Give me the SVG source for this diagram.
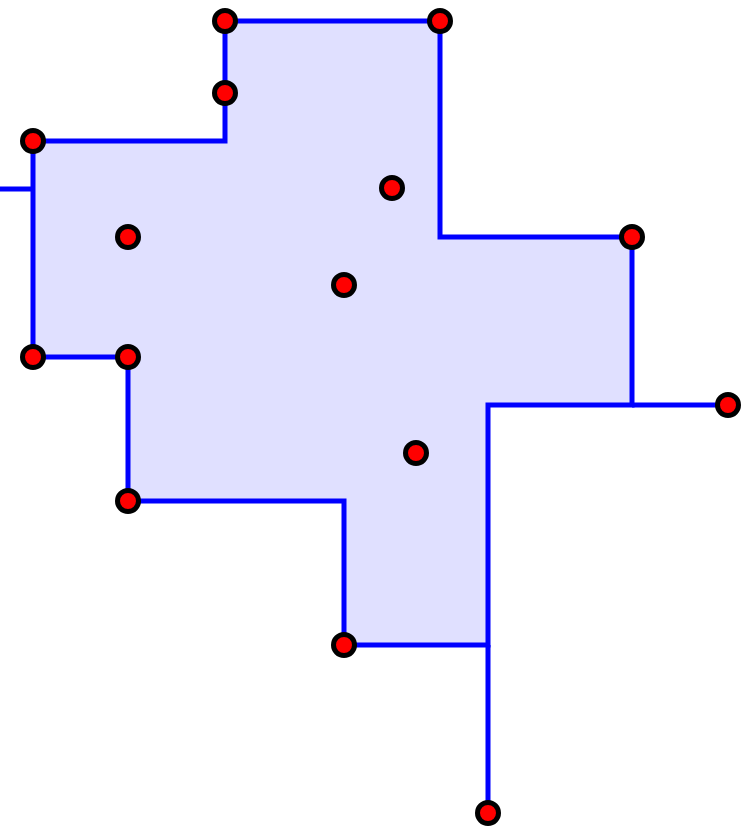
<svg xmlns="http://www.w3.org/2000/svg" width="746" height="827" viewBox="0 0 746 827">
<style>
.edge{fill:none;stroke:#0000ff;stroke-width:5;stroke-linecap:butt;stroke-linejoin:miter}
.area{fill:#e0e0ff;stroke:#0000ff;stroke-width:5;stroke-linejoin:miter}
.pt{fill:#ff0000;stroke:#000000;stroke-width:5}
</style>
<rect width="746" height="827" fill="#ffffff"/>
<g id="region">
<polygon class="area" points="33,141 225,141 225,21 440,21 440,237 632,237 632,405 488,405 488,645 344,645 344,501 128,501 128,357 33,357"/>
</g>
<g id="connectors">
<line class="edge" x1="0" y1="189" x2="33" y2="189"/>
<line class="edge" x1="632" y1="405" x2="728" y2="405"/>
<line class="edge" x1="488" y1="645" x2="488" y2="813"/>
</g>
<g id="n1"><circle class="pt" cx="225" cy="21" r="10.5"/></g>
<g id="n2"><circle class="pt" cx="440" cy="21" r="10.5"/></g>
<g id="n3"><circle class="pt" cx="225" cy="93" r="10.5"/></g>
<g id="n4"><circle class="pt" cx="33" cy="141" r="10.5"/></g>
<g id="n5"><circle class="pt" cx="392" cy="188" r="10.5"/></g>
<g id="n6"><circle class="pt" cx="128" cy="237" r="10.5"/></g>
<g id="n7"><circle class="pt" cx="632" cy="237" r="10.5"/></g>
<g id="n8"><circle class="pt" cx="344" cy="285" r="10.5"/></g>
<g id="n9"><circle class="pt" cx="33" cy="357" r="10.5"/></g>
<g id="n10"><circle class="pt" cx="128" cy="357" r="10.5"/></g>
<g id="n11"><circle class="pt" cx="728" cy="405" r="10.5"/></g>
<g id="n12"><circle class="pt" cx="416" cy="453" r="10.5"/></g>
<g id="n13"><circle class="pt" cx="128" cy="501" r="10.5"/></g>
<g id="n14"><circle class="pt" cx="344" cy="645" r="10.5"/></g>
<g id="n15"><circle class="pt" cx="488" cy="813" r="10.5"/></g>
</svg>
